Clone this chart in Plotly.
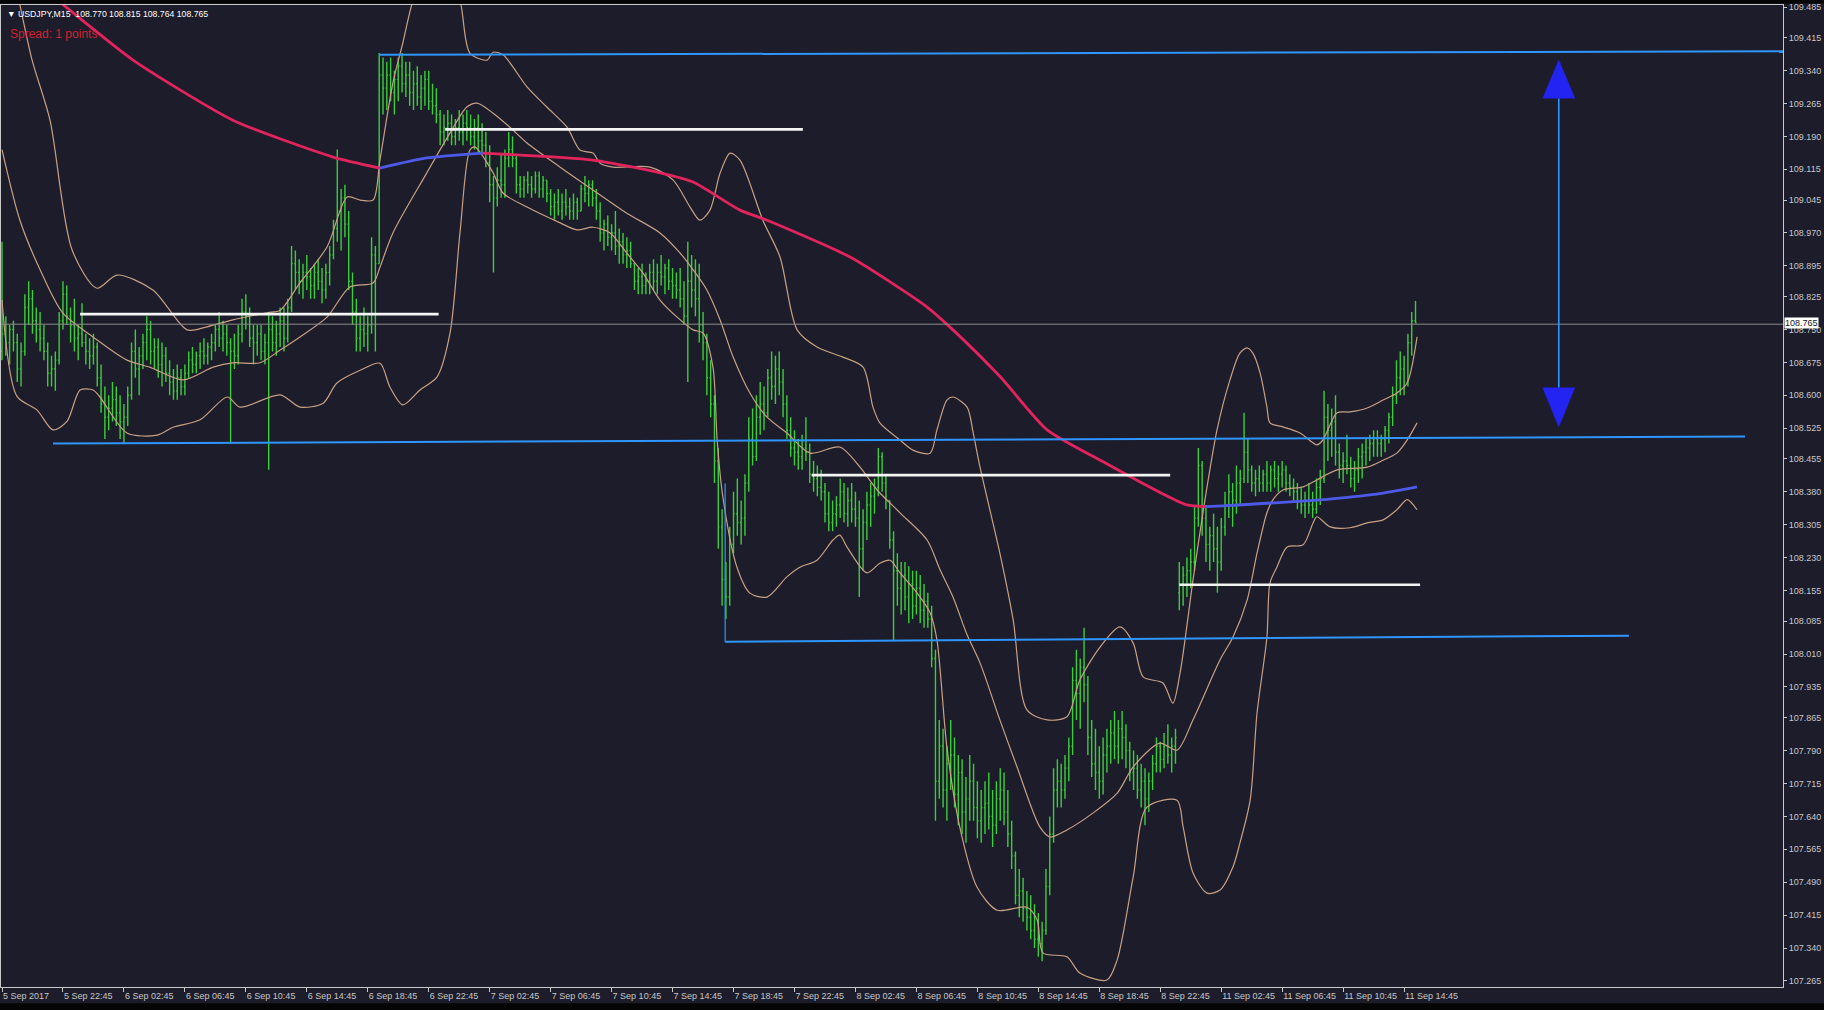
import plotly.graph_objects as go

# ---------------- data: M15 bars (index 0 = 5 Sep 18:45) ----------------
bar_open = [
108.70,108.74,108.72,108.75,108.72,108.66,108.70,108.80,108.82,108.77,
108.75,108.73,108.70,108.65,108.66,108.68,108.77,108.83,108.78,108.76,
108.73,108.74,108.72,108.70,108.69,108.71,108.64,108.58,108.55,108.57,
108.59,108.56,108.54,108.55,108.60,108.70,108.66,108.69,108.72,108.75,
108.70,108.71,108.67,108.69,108.65,108.63,108.61,108.64,108.62,108.65,
108.68,108.67,108.69,108.70,108.69,108.71,108.72,108.75,108.73,108.74,
108.72,108.70,108.69,108.74,108.79,108.78,108.73,108.72,108.74,108.70,
108.72,108.75,108.72,108.74,108.77,108.73,108.80,108.90,108.88,108.86,
108.88,108.87,108.85,108.88,108.86,108.84,108.88,108.92,108.98,109.02,
109.05,108.99,108.86,108.79,108.73,108.75,108.74,108.76,108.92,108.90,
109.33,109.30,109.33,109.29,109.32,109.35,109.31,109.33,109.29,109.31,
109.28,109.30,109.32,109.27,109.26,109.24,109.20,109.21,109.22,109.19,
109.21,109.20,109.22,109.21,109.19,109.21,109.18,109.17,109.13,109.08,
109.05,109.09,109.08,109.14,109.16,109.14,109.08,109.07,109.09,109.08,
109.07,109.10,109.07,109.09,109.06,109.03,109.04,109.02,109.04,109.03,
109.02,109.04,109.02,109.07,109.06,109.08,109.05,109.02,108.97,108.99,
108.96,108.97,108.94,108.95,108.92,108.93,108.90,108.86,108.87,108.85,
108.86,108.88,108.86,108.88,108.87,108.89,108.86,108.85,108.84,108.82,
108.78,108.86,108.84,108.82,108.76,108.72,108.64,108.58,108.45,108.30,
108.18,108.14,108.26,108.33,108.31,108.32,108.40,108.50,108.46,108.55,
108.58,108.56,108.64,108.62,108.66,108.63,108.58,108.52,108.48,108.47,
108.46,108.48,108.47,108.42,108.41,108.39,108.38,108.33,108.31,108.33,
108.35,108.38,108.33,108.36,108.34,108.32,108.25,108.31,108.35,108.37,
108.39,108.46,108.40,108.36,108.27,108.20,108.16,108.19,108.14,108.17,
108.12,108.16,108.11,108.13,108.09,108.00,107.72,107.80,107.70,107.76,
107.78,107.69,107.74,107.65,107.68,107.72,107.66,107.63,107.66,107.67,
107.64,107.62,107.68,107.70,107.65,107.60,107.55,107.46,107.47,107.43,
107.41,107.38,107.36,107.35,107.38,107.48,107.60,107.70,107.72,107.70,
107.75,107.80,107.95,107.92,107.98,107.94,107.82,107.76,107.74,107.72,
107.78,107.80,107.83,107.80,107.84,107.82,107.79,107.74,107.75,107.70,
107.72,107.68,107.72,107.76,107.80,107.77,107.80,107.78,107.80,108.15,
108.17,108.19,108.20,108.22,108.32,108.44,108.32,108.26,108.28,108.25,
108.22,108.30,108.35,108.38,108.36,108.40,108.41,108.47,108.43,108.40,
108.41,108.40,108.42,108.40,108.43,108.41,108.42,108.43,108.40,108.39,
108.38,108.36,108.35,108.36,108.35,108.34,108.39,108.41,108.55,108.52,
108.54,108.47,108.44,108.45,108.44,108.41,108.43,108.46,108.47,108.48,
108.49,108.50,108.49,108.50,108.52,108.55,108.60,108.64,108.66,108.63,
108.72,108.770]

bar_high = [
108.95,108.78,108.76,108.77,108.74,108.72,108.83,108.86,108.84,108.80,
108.79,108.76,108.72,108.69,108.70,108.79,108.86,108.85,108.80,108.82,
108.76,108.81,108.74,108.73,108.74,108.72,108.67,108.62,108.60,108.63,
108.62,108.60,108.58,108.62,108.72,108.75,108.71,108.74,108.78,108.77,
108.73,108.73,108.72,108.71,108.68,108.66,108.67,108.66,108.67,108.70,
108.71,108.70,108.72,108.73,108.72,108.74,108.76,108.79,108.77,108.76,
108.73,108.74,108.76,108.82,108.83,108.80,108.76,108.76,108.76,108.74,
108.79,108.78,108.77,108.80,108.80,108.82,108.94,108.93,108.91,108.90,
108.92,108.89,108.90,108.91,108.89,108.90,108.94,109.00,109.16,109.07,
109.08,109.02,108.88,108.82,108.78,108.80,108.78,108.96,108.94,109.38,
109.37,109.36,109.37,109.34,109.37,109.38,109.36,109.36,109.34,109.35,
109.33,109.34,109.34,109.31,109.30,109.25,109.24,109.25,109.24,109.23,
109.25,109.24,109.25,109.24,109.23,109.24,109.22,109.20,109.17,109.10,
109.12,109.15,109.16,109.20,109.19,109.15,109.10,109.10,109.11,109.10,
109.11,109.11,109.10,109.09,109.07,109.06,109.07,109.06,109.07,109.05,
109.06,109.05,109.08,109.10,109.09,109.09,109.07,109.04,109.00,109.01,
108.99,109.02,108.98,108.97,108.96,108.95,108.90,108.89,108.90,108.88,
108.90,108.91,108.90,108.92,108.90,108.91,108.89,108.88,108.89,108.86,
108.95,108.92,108.91,108.90,108.79,108.74,108.68,108.60,108.48,108.34,
108.22,108.30,108.38,108.41,108.36,108.42,108.55,108.57,108.60,108.63,
108.62,108.66,108.70,108.69,108.70,108.66,108.60,108.55,108.52,108.50,
108.51,108.55,108.49,108.45,108.44,108.43,108.40,108.38,108.36,108.37,
108.41,108.40,108.39,108.40,108.38,108.36,108.34,108.38,108.40,108.41,
108.48,108.47,108.42,108.36,108.29,108.24,108.22,108.22,108.21,108.20,
108.20,108.19,108.17,108.15,108.12,108.02,107.86,107.84,107.80,107.86,
107.82,107.78,107.77,107.73,107.78,107.76,107.72,107.70,107.72,107.74,
107.70,107.72,107.75,107.74,107.70,107.63,107.56,107.52,107.50,107.47,
107.46,107.44,107.42,107.40,107.52,107.64,107.75,107.77,107.76,107.78,
107.82,107.98,108.02,108.00,108.07,107.96,107.86,107.84,107.80,107.82,
107.84,107.86,107.88,107.86,107.88,107.85,107.81,107.79,107.78,107.76,
107.75,107.74,107.78,107.82,107.81,107.83,107.85,107.82,107.84,108.22,
108.21,108.23,108.25,108.35,108.48,108.45,108.35,108.30,108.33,108.30,
108.32,108.38,108.42,108.40,108.44,108.43,108.56,108.50,108.44,108.43,
108.44,108.43,108.45,108.44,108.45,108.44,108.45,108.44,108.42,108.41,
108.40,108.39,108.38,108.40,108.38,108.41,108.43,108.61,108.58,108.57,
108.60,108.49,108.47,108.51,108.46,108.45,108.48,108.49,108.50,108.51,
108.52,108.52,108.51,108.53,108.56,108.62,108.68,108.70,108.69,108.74,
108.79,108.815]

bar_low = [
108.68,108.69,108.67,108.70,108.63,108.62,108.69,108.76,108.74,108.72,
108.70,108.68,108.62,108.62,108.61,108.67,108.75,108.76,108.72,108.70,
108.68,108.71,108.67,108.66,108.67,108.62,108.56,108.50,108.52,108.54,
108.53,108.50,108.49,108.53,108.59,108.64,108.60,108.66,108.68,108.67,
108.66,108.64,108.62,108.63,108.60,108.59,108.59,108.60,108.60,108.64,
108.65,108.65,108.66,108.67,108.67,108.68,108.70,108.71,108.70,108.69,
108.49,108.66,108.67,108.72,108.75,108.71,108.67,108.69,108.68,108.67,
108.43,108.70,108.69,108.71,108.70,108.72,108.79,108.84,108.83,108.82,
108.84,108.82,108.82,108.84,108.81,108.82,108.85,108.91,108.95,108.93,
108.96,108.84,108.76,108.70,108.70,108.71,108.70,108.74,108.70,108.90,
109.24,109.25,109.27,109.24,109.27,109.29,109.28,109.26,109.25,109.26,
109.25,109.26,109.25,109.24,109.22,109.17,109.17,109.18,109.17,109.17,
109.18,109.17,109.18,109.17,109.16,109.15,109.15,109.12,109.04,108.88,
109.03,109.05,109.05,109.12,109.12,109.06,109.05,109.05,109.06,109.05,
109.06,109.05,109.05,109.04,109.01,109.00,109.01,109.00,109.01,109.00,
109.00,109.00,109.02,109.04,109.03,109.03,109.00,108.95,108.93,108.94,
108.93,108.92,108.90,108.90,108.89,108.89,108.84,108.83,108.83,108.83,
108.83,108.84,108.83,108.85,108.83,108.84,108.82,108.82,108.80,108.76,
108.63,108.80,108.78,108.72,108.68,108.60,108.55,108.40,108.25,108.12,
108.09,108.12,108.24,108.28,108.26,108.28,108.38,108.44,108.45,108.51,
108.52,108.55,108.59,108.58,108.60,108.55,108.50,108.46,108.44,108.43,
108.43,108.45,108.40,108.38,108.37,108.36,108.31,108.29,108.29,108.30,
108.32,108.31,108.30,108.31,108.30,108.14,108.20,108.27,108.30,108.33,
108.37,108.38,108.34,108.25,108.04,108.12,108.10,108.11,108.08,108.09,
108.10,108.08,108.07,108.07,107.98,107.63,107.68,107.66,107.63,107.70,
107.66,107.62,107.60,107.58,107.63,107.63,107.59,107.58,107.60,107.61,
107.57,107.60,107.63,107.62,107.57,107.52,107.44,107.41,107.40,107.38,
107.36,107.34,107.32,107.31,107.37,107.46,107.58,107.66,107.66,107.68,
107.72,107.78,107.86,107.84,107.90,107.78,107.73,107.70,107.68,107.69,
107.74,107.76,107.77,107.76,107.77,107.75,107.72,107.70,107.68,107.66,
107.62,107.65,107.70,107.74,107.74,107.75,107.76,107.74,107.76,108.11,
108.12,108.14,108.16,108.20,108.30,108.28,108.22,108.20,108.22,108.15,
108.20,108.28,108.32,108.30,108.33,108.35,108.40,108.40,108.38,108.37,
108.38,108.38,108.38,108.38,108.39,108.38,108.39,108.38,108.37,108.36,
108.34,108.33,108.32,108.33,108.32,108.33,108.35,108.40,108.45,108.46,
108.44,108.41,108.40,108.42,108.39,108.38,108.40,108.41,108.44,108.45,
108.46,108.46,108.46,108.47,108.49,108.53,108.58,108.60,108.60,108.62,
108.69,108.764]

bar_close = [
108.74,108.72,108.75,108.72,108.66,108.70,108.80,108.82,108.77,108.75,
108.73,108.70,108.65,108.66,108.68,108.77,108.83,108.78,108.76,108.73,
108.74,108.72,108.70,108.69,108.71,108.64,108.58,108.55,108.57,108.59,
108.56,108.54,108.55,108.60,108.70,108.66,108.69,108.72,108.75,108.70,
108.71,108.67,108.69,108.65,108.63,108.61,108.64,108.62,108.65,108.68,
108.67,108.69,108.70,108.69,108.71,108.72,108.75,108.73,108.74,108.72,
108.70,108.69,108.74,108.79,108.78,108.73,108.72,108.74,108.70,108.72,
108.75,108.72,108.74,108.77,108.73,108.80,108.90,108.88,108.86,108.88,
108.87,108.85,108.88,108.86,108.84,108.88,108.92,108.98,109.02,109.05,
108.99,108.86,108.79,108.73,108.75,108.74,108.76,108.92,108.90,109.33,
109.30,109.33,109.29,109.32,109.35,109.31,109.33,109.29,109.31,109.28,
109.30,109.32,109.27,109.26,109.24,109.20,109.21,109.22,109.19,109.21,
109.20,109.22,109.21,109.19,109.21,109.18,109.17,109.13,109.08,109.05,
109.09,109.08,109.14,109.16,109.14,109.08,109.07,109.09,109.08,109.07,
109.10,109.07,109.09,109.06,109.03,109.04,109.02,109.04,109.03,109.02,
109.04,109.02,109.07,109.06,109.08,109.05,109.02,108.97,108.99,108.96,
108.97,108.94,108.95,108.92,108.93,108.90,108.86,108.87,108.85,108.86,
108.88,108.86,108.88,108.87,108.89,108.86,108.85,108.84,108.82,108.78,
108.86,108.84,108.82,108.76,108.72,108.64,108.58,108.45,108.30,108.18,
108.14,108.26,108.33,108.31,108.32,108.40,108.50,108.46,108.55,108.58,
108.56,108.64,108.62,108.66,108.63,108.58,108.52,108.48,108.47,108.46,
108.48,108.47,108.42,108.41,108.39,108.38,108.33,108.31,108.33,108.35,
108.38,108.33,108.36,108.34,108.32,108.25,108.31,108.35,108.37,108.39,
108.46,108.40,108.36,108.27,108.20,108.16,108.19,108.14,108.17,108.12,
108.16,108.11,108.13,108.09,108.00,107.72,107.80,107.70,107.76,107.78,
107.69,107.74,107.65,107.68,107.72,107.66,107.63,107.66,107.67,107.64,
107.62,107.68,107.70,107.65,107.60,107.55,107.46,107.47,107.43,107.41,
107.38,107.36,107.35,107.38,107.48,107.60,107.70,107.72,107.70,107.75,
107.80,107.95,107.92,107.98,107.94,107.82,107.76,107.74,107.72,107.78,
107.80,107.83,107.80,107.84,107.82,107.79,107.74,107.75,107.70,107.72,
107.68,107.72,107.76,107.80,107.77,107.80,107.78,107.80,107.82,108.17,
108.19,108.20,108.22,108.32,108.44,108.32,108.26,108.28,108.25,108.22,
108.30,108.35,108.38,108.36,108.40,108.41,108.47,108.43,108.40,108.41,
108.40,108.42,108.40,108.43,108.41,108.42,108.43,108.40,108.39,108.38,
108.36,108.35,108.36,108.35,108.34,108.39,108.41,108.55,108.52,108.54,
108.47,108.44,108.45,108.44,108.41,108.43,108.46,108.47,108.48,108.49,
108.50,108.49,108.50,108.52,108.55,108.60,108.64,108.66,108.63,108.72,
108.77,108.765]

bar_index = list(range(len(bar_close)))

x_labels = ["5 Sep 2017", "5 Sep 22:45", "6 Sep 02:45", "6 Sep 06:45", "6 Sep 10:45",
            "6 Sep 14:45", "6 Sep 18:45", "6 Sep 22:45", "7 Sep 02:45", "7 Sep 06:45",
            "7 Sep 10:45", "7 Sep 14:45", "7 Sep 18:45", "7 Sep 22:45", "8 Sep 02:45",
            "8 Sep 06:45", "8 Sep 10:45", "8 Sep 14:45", "8 Sep 18:45", "8 Sep 22:45",
            "11 Sep 02:45", "11 Sep 06:45", "11 Sep 10:45", "11 Sep 14:45"]
bars_per_label = 16

y_labels = ["109.485", "109.415", "109.340", "109.265", "109.190", "109.115", "109.045",
            "108.970", "108.895", "108.825", "108.750", "108.675", "108.600", "108.525",
            "108.455", "108.380", "108.305", "108.230", "108.155", "108.085", "108.010",
            "107.935", "107.865", "107.790", "107.715", "107.640", "107.565", "107.490",
            "107.415", "107.340", "107.265"]

# Bollinger envelope
bb_upper_x = [0, 4.7, 7.9, 12.6, 18.4, 24.9, 30.2, 39.6, 48.6, 53.8, 60.6, 69.6, 73.0, 78.2, 85.3,
              90.6, 94.0, 97.4, 99.2, 102.6, 105.2, 107.9, 114.2, 120.2, 122.8, 127.3, 128.9, 131.5,
              137.8, 143.0, 148.3, 151.7, 155.1, 157.0, 160.4, 170.1, 176.1, 180.6, 183.2, 185.8,
              188.5, 191.1, 193.7, 199.7, 204.2, 208.7, 213.9, 220.7, 226.0, 228.6, 230.4, 235.7,
              239.1, 243.6, 245.4, 248.0, 249.6, 253.3, 254.9, 256.7, 261.9, 265.4, 269.0, 274.3,
              279.5, 282.9, 288.2, 293.4, 296.9, 299.5, 304.7, 307.3, 309.2, 312.6, 315.2, 318.9,
              322.3, 324.9, 326.8, 328.3, 330.2, 332.0, 332.8, 336.2, 340.7, 345.1, 346.7, 350.4,
              353.8, 358.3, 362.5, 366.1, 368.8, 371.4]
bb_upper = [109.69, 109.490, 109.364, 109.227, 108.931, 108.844, 108.874, 108.840, 108.749, 108.756,
            108.772, 108.788, 108.794, 108.856, 108.938, 109.052, 109.045, 109.045, 109.136, 109.312,
            109.403, 109.501, 109.638, 109.501, 109.380, 109.364, 109.382, 109.376, 109.303, 109.257,
            109.211, 109.159, 109.152, 109.129, 109.120, 109.120, 109.091, 109.029, 108.999, 109.022,
            109.107, 109.152, 109.136, 108.999, 108.915, 108.749, 108.710, 108.687, 108.664, 108.573,
            108.537, 108.498, 108.475, 108.468, 108.521, 108.589, 108.596, 108.573, 108.514, 108.436,
            108.240, 108.088, 107.883, 107.860, 107.867, 107.951, 108.026, 108.072, 108.035, 107.958,
            107.944, 107.898, 107.967, 108.179, 108.332, 108.521, 108.635, 108.696, 108.708, 108.696,
            108.651, 108.573, 108.537, 108.528, 108.514, 108.487, 108.498, 108.560, 108.562, 108.571,
            108.589, 108.605, 108.628, 108.733]

bb_mid_x = [0, 4.7, 10.0, 16.0, 23.9, 32.8, 38.8, 47.5, 55.4, 60.6, 67.7, 73.0, 78.2, 85.3, 91.3,
            97.4, 99.2, 102.6, 111.5, 117.6, 122.0, 124.7, 128.9, 133.3, 137.8, 146.5, 155.1, 164.0,
            172.7, 178.0, 181.4, 185.0, 188.5, 191.9, 196.3, 200.8, 206.0, 212.1, 219.9, 225.2,
            229.7, 235.7, 242.8, 246.2, 249.6, 253.3, 256.7, 261.9, 266.4, 272.4, 275.1, 279.5,
            286.4, 292.7, 296.9, 303.9, 308.4, 312.6, 319.7, 323.1, 326.8, 329.4, 332.0, 333.6,
            336.2, 341.5, 345.1, 350.4, 358.3, 362.5, 366.1, 368.8, 371.4]
bb_mid = [109.16, 108.999, 108.886, 108.787, 108.733, 108.680, 108.664, 108.635, 108.664, 108.674,
          108.674, 108.703, 108.733, 108.778, 108.847, 108.856, 108.892, 108.970, 109.107, 109.198,
          109.257, 109.266, 109.243, 109.211, 109.175, 109.120, 109.068, 109.015, 108.970, 108.924,
          108.886, 108.840, 108.771, 108.687, 108.605, 108.550, 108.514, 108.468, 108.482, 108.436,
          108.384, 108.332, 108.270, 108.202, 108.140, 108.054, 107.990, 107.860, 107.753, 107.616,
          107.593, 107.609, 107.648, 107.693, 107.753, 107.807, 107.791, 107.860, 107.997, 108.049,
          108.133, 108.240, 108.332, 108.362, 108.384, 108.391, 108.407, 108.430, 108.436, 108.452,
          108.468, 108.498, 108.537]

bb_lower_x = [0, 3.9, 9.2, 13.4, 17.1, 20.5, 23.9, 25.7, 32.8, 40.7, 44.9, 52.0, 59.1, 62.5, 73.0,
              78.2, 84.3, 87.9, 94.0, 99.2, 101.8, 105.2, 109.7, 114.2, 117.6, 120.2, 122.8, 124.1,
              128.9, 131.5, 137.8, 146.5, 150.9, 155.1, 159.6, 164.0, 168.2, 172.7, 177.2, 181.4,
              184.0, 186.6, 187.7, 189.2, 192.9, 196.3, 200.8, 206.0, 209.4, 213.9, 218.1, 219.9,
              221.8, 227.0, 230.4, 233.1, 235.7, 240.2, 243.6, 245.4, 248.0, 251.4, 255.9, 261.2,
              269.0, 271.7, 273.2, 279.5, 282.9, 290.0, 292.7, 296.9, 300.5, 308.4, 310.0, 312.6,
              316.3, 319.7, 323.1, 324.9, 327.6, 329.4, 332.0, 332.8, 334.6, 337.3, 341.5, 344.1,
              345.1, 348.6, 353.8, 358.3, 362.5, 366.1, 368.8, 371.4]
bb_lower = [108.817, 108.598, 108.566, 108.521, 108.541, 108.612, 108.612, 108.596, 108.514, 108.509,
            108.527, 108.544, 108.596, 108.573, 108.601, 108.573, 108.582, 108.628, 108.657, 108.673,
            108.619, 108.578, 108.612, 108.642, 108.742, 108.970, 109.159, 109.166, 109.107, 109.061,
            109.029, 108.993, 108.977, 108.983, 108.970, 108.924, 108.879, 108.817, 108.778, 108.749,
            108.742, 108.664, 108.498, 108.368, 108.208, 108.149, 108.140, 108.186, 108.208, 108.224,
            108.270, 108.281, 108.254, 108.195, 108.217, 108.224, 108.195, 108.149, 108.104, 108.042,
            107.798, 107.615, 107.479, 107.426, 107.433, 107.404, 107.329, 107.320, 107.283, 107.267,
            107.313, 107.502, 107.661, 107.677, 107.616, 107.511, 107.465, 107.472, 107.525, 107.579,
            107.677, 107.875, 108.049, 108.172, 108.208, 108.254, 108.259, 108.309, 108.323, 108.300,
            108.298, 108.309, 108.316, 108.339, 108.362, 108.339]

# slow moving average (red when falling, blue when rising)
ma_x = [0, 15.2, 34.4, 60.6, 86.9, 99.2, 111.5, 126.2, 155.1, 172.7, 181.4, 193.7, 200.8, 222.6,
        242.8, 249.6, 262.0, 274.3, 289.5, 304.7, 311.0, 316.0, 320.5, 345.1, 362.5, 371.4]
ma_val = [109.60, 109.496, 109.364, 109.227, 109.143, 109.118, 109.141, 109.152, 109.136, 109.107,
          109.086, 109.022, 108.999, 108.915, 108.801, 108.749, 108.642, 108.521, 108.446, 108.375,
          108.350, 108.346, 108.348, 108.361, 108.377, 108.391]

# drawn objects: (start bar, start price, end bar, end price)
blue_levels = [(99.2, 109.376, 467.5, 109.384),
               (13.4, 108.490, 457.5, 108.506),
               (189.8, 108.038, 427.0, 108.052)]
blue_vertical = (189.8, 108.038, 108.399)
white_levels = [(20.5, 108.785, 114.6, 108.785),
                (116.3, 109.206, 210.2, 109.206),
                (212.5, 108.418, 306.6, 108.418),
                (309.0, 108.168, 372.2, 108.168)]
price_line = 108.762
last_price = 108.765
arrow_bar = 408.6
arrow_top, arrow_top_base = 109.364, 109.277
arrow_bottom, arrow_bottom_base = 108.528, 108.617

# ---------------- styling ----------------
BG = "#1c1c2a"
GREEN = "#3ccd3c"
TAN = "#c8a184"
MA_RED = "#e2245c"
MA_BLUE = "#4d5ae8"
LVL_BLUE = "#2f95ff"
HEAD_BLUE = "#2424f2"
AXIS = "#c8c8c8"
FONT = "Liberation Sans, Arial, sans-serif"

X_MIN, X_MAX = -0.262, 467.45
Y_MIN, Y_MAX = 107.2511, 109.4896

fig = go.Figure()

# Bollinger lines
for xs, ys in [(bb_upper_x, bb_upper), (bb_mid_x, bb_mid), (bb_lower_x, bb_lower)]:
    fig.add_trace(go.Scatter(x=xs, y=ys, mode="lines", hoverinfo="skip",
                             line=dict(color=TAN, width=1.2, shape="spline", smoothing=0.8)))

# MA split by slope direction
segs = []
cur = None
for k in range(len(ma_x) - 1):
    col = MA_BLUE if ma_val[k + 1] > ma_val[k] else MA_RED
    if cur is None or cur[0] != col:
        cur = [col, [ma_x[k]], [ma_val[k]]]
        segs.append(cur)
    cur[1].append(ma_x[k + 1])
    cur[2].append(ma_val[k + 1])
for col, xs, ys in segs:
    fig.add_trace(go.Scatter(x=xs, y=ys, mode="lines", hoverinfo="skip",
                             line=dict(color=col, width=2.8, shape="spline", smoothing=0.6)))

# price bars
fig.add_trace(go.Ohlc(x=bar_index, open=bar_open, high=bar_high, low=bar_low, close=bar_close,
                      increasing=dict(line=dict(color=GREEN, width=1.4)),
                      decreasing=dict(line=dict(color=GREEN, width=1.4)),
                      tickwidth=0.3, hoverinfo="skip"))

# current price line
fig.add_trace(go.Scatter(x=[X_MIN, X_MAX], y=[price_line, price_line], mode="lines",
                         hoverinfo="skip", line=dict(color="#8c8c8c", width=1)))

# blue levels
for x0, y0, x1, y1 in blue_levels:
    fig.add_trace(go.Scatter(x=[x0, x1], y=[y0, y1], mode="lines", hoverinfo="skip",
                             line=dict(color=LVL_BLUE, width=2)))
vx, vy0, vy1 = blue_vertical
fig.add_trace(go.Scatter(x=[vx, vx], y=[vy0, vy1], mode="lines", hoverinfo="skip",
                         line=dict(color=LVL_BLUE, width=1.2)))

# white levels
for x0, y0, x1, y1 in white_levels:
    fig.add_trace(go.Scatter(x=[x0, x1], y=[y0, y1], mode="lines", hoverinfo="skip",
                             line=dict(color="#f4f4f4", width=2.6)))

# double arrow
fig.add_trace(go.Scatter(x=[arrow_bar, arrow_bar], y=[arrow_top_base, arrow_bottom_base],
                         mode="lines", hoverinfo="skip", line=dict(color=LVL_BLUE, width=1.6)))
hw = 4.2
fig.add_trace(go.Scatter(x=[arrow_bar - hw, arrow_bar + hw, arrow_bar, arrow_bar - hw],
                         y=[arrow_top_base, arrow_top_base, arrow_top, arrow_top_base],
                         mode="lines", fill="toself", fillcolor=HEAD_BLUE, hoverinfo="skip",
                         line=dict(color=HEAD_BLUE, width=0.5)))
fig.add_trace(go.Scatter(x=[arrow_bar - hw, arrow_bar + hw, arrow_bar, arrow_bar - hw],
                         y=[arrow_bottom_base, arrow_bottom_base, arrow_bottom, arrow_bottom_base],
                         mode="lines", fill="toself", fillcolor=HEAD_BLUE, hoverinfo="skip",
                         line=dict(color=HEAD_BLUE, width=0.5)))

fig.update_layout(
    width=1824, height=1010,
    margin=dict(l=1, r=41, t=5, b=23),
    paper_bgcolor=BG, plot_bgcolor=BG,
    showlegend=False,
    font=dict(family=FONT, color=AXIS, size=9),
    xaxis=dict(range=[X_MIN, X_MAX],
               tickvals=[bars_per_label * k for k in range(len(x_labels))],
               ticktext=x_labels, ticks="outside", ticklen=4, tickcolor=AXIS,
               tickangle=0, ticklabelposition="outside right",
               tickfont=dict(size=9, color=AXIS, family=FONT),
               showgrid=False, zeroline=False, showline=True, linecolor=AXIS,
               linewidth=1, mirror=True, rangeslider=dict(visible=False), fixedrange=True),
    yaxis=dict(range=[Y_MIN, Y_MAX], side="right",
               tickvals=[float(v) for v in y_labels], ticktext=y_labels,
               ticks="outside", ticklen=3, tickcolor=AXIS,
               tickfont=dict(size=9, color=AXIS, family=FONT),
               showgrid=False, zeroline=False, showline=True, linecolor=AXIS,
               linewidth=1, mirror=True, fixedrange=True),
    shapes=[
        dict(type="rect", xref="paper", yref="paper", x0=-0.01, x1=1.03, y0=1.0015, y1=1.01,
             fillcolor="#050505", line=dict(width=0), layer="below"),
        dict(type="rect", xref="paper", yref="paper", x0=-0.01, x1=1.03, y0=-0.03, y1=-0.0165,
             fillcolor="#050505", line=dict(width=0), layer="below"),
    ],
    annotations=[
        dict(xref="paper", yref="paper", x=0.002, y=0.9908, xanchor="left", yanchor="middle",
             text="\u25bc USDJPY,M15  108.770 108.815 108.764 108.765", showarrow=False,
             font=dict(size=8.7, color="#ffffff", family=FONT)),
        dict(xref="paper", yref="paper", x=0.004, y=0.9705, xanchor="left", yanchor="middle",
             text="Spread: 1 points", showarrow=False,
             font=dict(size=12, color="#d2232f", family=FONT)),
        dict(xref="paper", yref="y", x=1.0, xshift=1, y=last_price, xanchor="left",
             yanchor="middle", text=f"{last_price:.3f}", showarrow=False, bgcolor="#ffffff",
             borderpad=0, font=dict(size=9, color="#111111", family=FONT)),
    ],
)

fig.write_html("out.html", config={"displayModeBar": False},
               post_script="document.body.style.margin='0px';")
